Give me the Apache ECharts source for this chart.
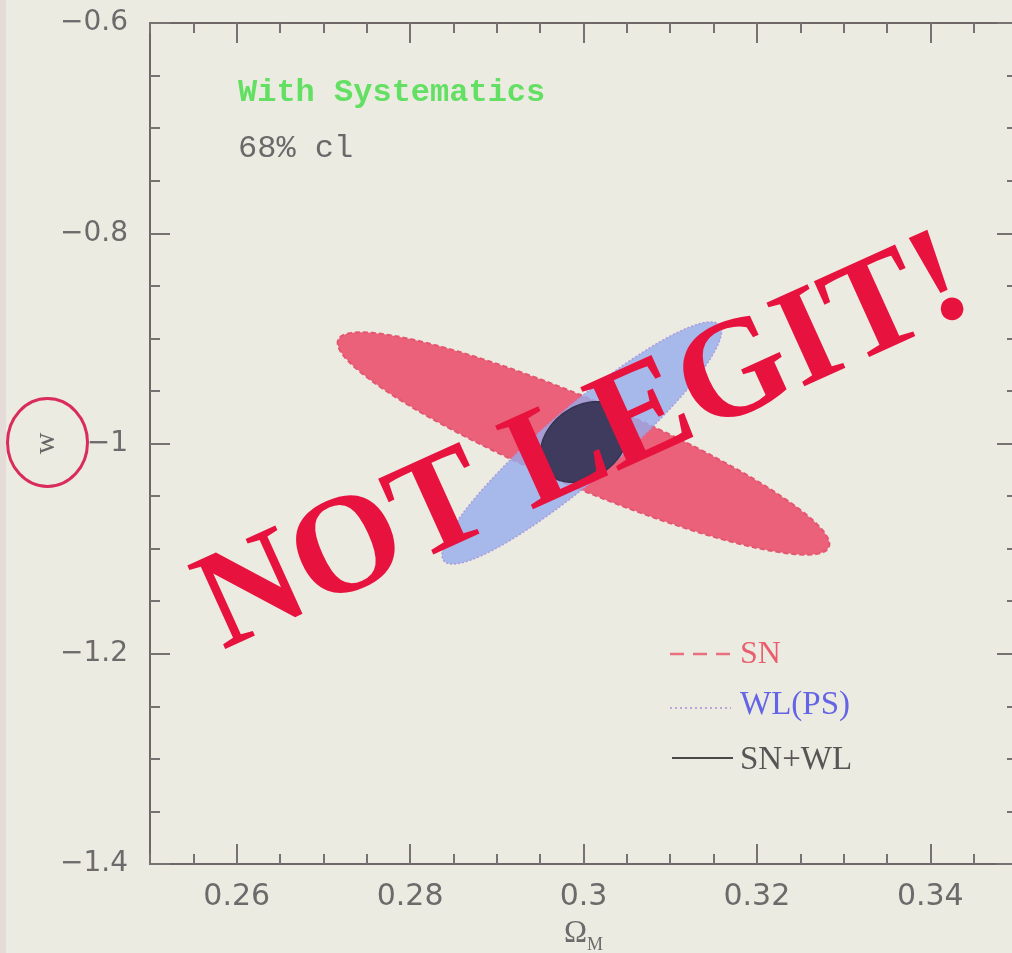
<!DOCTYPE html>
<html><head><meta charset="utf-8">
<script src="https://cdn.jsdelivr.net/npm/echarts@6/dist/echarts.min.js"></script>
<style>html,body{margin:0;padding:0;background:#ecebe1;}#c{width:1012px;height:953px;}</style>
</head><body><div id="c"></div>
<script>
// ---- data ----
const xRange = [0.25, 0.35];
const yRange = [-1.4, -0.6];
const xMajorTicks = [0.26, 0.28, 0.30, 0.32, 0.34];
const xTickLabels = ['0.26', '0.28', '0.3', '0.32', '0.34'];
const yMajorTicks = [-0.6, -0.8, -1.0, -1.2, -1.4];
const yTickLabels = ['\u22120.6', '\u22120.8', '\u22121', '\u22121.2', '\u22121.4'];
const xMinorStep = 0.005;
const yMinorStep = 0.05;
const seriesNames = ['SN', 'WL(PS)', 'SN+WL'];
// 68% cl contours: [centre x, centre y, major-axis end x, y, minor-axis end x, y]
const snEllipse = [0.3000, -1.0000, 0.2717, -0.9015, 0.2981, -1.0385];
const wlEllipse = [0.2998, -0.9995, 0.3157, -0.8873, 0.3025, -1.0256];
const combEllipse = [0.3001, -0.9986, 0.3046, -0.9724, 0.3024, -1.0266];

const frameColor = '#6f6767';
const tickColor = '#777272';
const labelColor = '#6c6a6a';

function labelFor(ticks, labels) {
  return function (v) {
    for (let i = 0; i < ticks.length; i++) if (Math.abs(ticks[i] - v) < 1e-9) return labels[i];
    return '';
  };
}

function ellipseRenderer(style) {
  return function (params, api) {
    const cx = api.value(0), cy = api.value(1);
    const ax = api.value(2) - cx, ay = api.value(3) - cy;
    const bx = api.value(4) - cx, by = api.value(5) - cy;
    const pts = [];
    const n = 160;
    for (let i = 0; i < n; i++) {
      const t = i / n * 2 * Math.PI;
      const c = Math.cos(t), s = Math.sin(t);
      pts.push(api.coord([cx + c * ax + s * bx, cy + c * ay + s * by]));
    }
    return { type: 'polygon', shape: { points: pts }, style: style };
  };
}

function majorX(pos) {
  return {
    type: 'value', min: xRange[0], max: xRange[1], position: pos,
    axisLine: { show: true, onZero: false, lineStyle: { color: frameColor, width: 2 } },
    axisTick: { show: true, inside: true, length: 20, customValues: xMajorTicks, lineStyle: { color: tickColor, width: 2 } },
    axisLabel: pos === 'bottom' ? {
      show: true, customValues: xMajorTicks, formatter: labelFor(xMajorTicks, xTickLabels),
      fontFamily: 'DejaVu Sans', fontSize: 30, color: labelColor, margin: 18
    } : { show: false },
    splitLine: { show: false },
    name: pos === 'bottom' ? '{o|\u03A9}{m|M}' : '',
    nameLocation: 'middle', nameGap: 50, nameMoveOverlap: false,
    nameTextStyle: {
      rich: {
        o: { fontFamily: 'Liberation Serif', fontSize: 31, color: labelColor },
        m: { fontFamily: 'Liberation Serif', fontSize: 18, color: labelColor, verticalAlign: 'top', padding: [22, 0, 0, 0] }
      }
    }
  };
}
function minorX(pos) {
  return {
    type: 'value', min: xRange[0], max: xRange[1], interval: xMinorStep, position: pos,
    axisLine: { show: false },
    axisTick: { show: true, inside: true, length: 10, lineStyle: { color: tickColor, width: 2 } },
    axisLabel: { show: false }, splitLine: { show: false }
  };
}
function majorY(pos) {
  return {
    type: 'value', min: yRange[0], max: yRange[1], position: pos,
    axisLine: { show: true, onZero: false, lineStyle: { color: frameColor, width: 2 } },
    axisTick: { show: true, inside: true, length: 20, customValues: yMajorTicks, lineStyle: { color: tickColor, width: 2 } },
    axisLabel: pos === 'left' ? {
      show: true, customValues: yMajorTicks, formatter: labelFor(yMajorTicks, yTickLabels),
      fontFamily: 'DejaVu Sans', fontSize: 28, color: labelColor, margin: 22
    } : { show: false },
    splitLine: { show: false },
    name: pos === 'left' ? 'w' : '',
    nameLocation: 'middle', nameGap: 89, nameRotate: 90, nameMoveOverlap: false,
    nameTextStyle: { fontFamily: 'Liberation Serif', fontSize: 30, color: '#666' }
  };
}
function minorY(pos) {
  return {
    type: 'value', min: yRange[0], max: yRange[1], interval: yMinorStep, position: pos,
    axisLine: { show: false },
    axisTick: { show: true, inside: true, length: 10, lineStyle: { color: tickColor, width: 2 } },
    axisLabel: { show: false }, splitLine: { show: false }
  };
}

const chart = echarts.init(document.getElementById('c'), null, { renderer: 'canvas' });
chart.setOption({
  backgroundColor: '#ecebe1',
  animation: false,
  grid: { left: 150, top: 23, width: 867, height: 841, containLabel: false, outerBoundsMode: 'none' },
  xAxis: [majorX('bottom'), minorX('bottom'), majorX('top'), minorX('top')],
  yAxis: [majorY('left'), minorY('left'), majorY('right'), minorY('right')],
  series: [
    {
      type: 'custom', name: seriesNames[0], xAxisIndex: 0, yAxisIndex: 0, z: 2,
      renderItem: ellipseRenderer({ fill: '#ea6179', stroke: '#e4566f', lineWidth: 2, lineDash: [5, 3] }),
      data: [snEllipse]
    },
    {
      type: 'custom', name: seriesNames[1], xAxisIndex: 0, yAxisIndex: 0, z: 3,
      renderItem: ellipseRenderer({ fill: 'rgba(150,172,236,0.8)', stroke: 'rgba(170,150,220,0.9)', lineWidth: 1.5, lineDash: [2, 2] }),
      data: [wlEllipse]
    },
    {
      type: 'custom', name: seriesNames[2], xAxisIndex: 0, yAxisIndex: 0, z: 4,
      renderItem: ellipseRenderer({ fill: '#3e3b5e', stroke: '#35334f', lineWidth: 1.5 }),
      data: [combEllipse]
    }
  ],
  graphic: [
    { type: 'rect', shape: { x: 0, y: 0, width: 6, height: 953 }, style: { fill: '#e6dcd7' }, z: 0 },
    { type: 'text', x: 238, y: 93, style: { text: 'With Systematics', font: 'bold 32px "Liberation Mono"', fill: '#63e063', verticalAlign: 'middle' }, z: 10 },
    { type: 'text', x: 238, y: 149, style: { text: '68% cl', font: '32px "Liberation Mono"', fill: '#6a6868', verticalAlign: 'middle' }, z: 10 },
    { type: 'line', shape: { x1: 670, y1: 654, x2: 733, y2: 654 }, style: { stroke: '#e8707f', lineWidth: 2.5, lineDash: [14, 9] }, z: 10 },
    { type: 'text', x: 740, y: 655, style: { text: 'SN', font: '32px "Liberation Serif"', fill: '#e8606e', verticalAlign: 'middle' }, z: 10 },
    { type: 'line', shape: { x1: 670, y1: 708, x2: 731, y2: 708 }, style: { stroke: '#bba6d8', lineWidth: 2, lineDash: [2, 3] }, z: 10 },
    { type: 'text', x: 740, y: 705, style: { text: 'WL(PS)', font: '33px "Liberation Serif"', fill: '#6464e6', verticalAlign: 'middle' }, z: 10 },
    { type: 'line', shape: { x1: 672, y1: 758, x2: 733, y2: 758 }, style: { stroke: '#4a4848', lineWidth: 2 }, z: 10 },
    { type: 'text', x: 740, y: 760, style: { text: 'SN+WL', font: '33px "Liberation Serif"', fill: '#575555', verticalAlign: 'middle' }, z: 10 },
    { type: 'ellipse', shape: { cx: 47.5, cy: 442.5, rx: 40, ry: 44 }, style: { fill: 'none', stroke: '#d92c5a', lineWidth: 3 }, z: 10 },
    { type: 'text', x: 585, y: 446, rotation: 24.4 * Math.PI / 180,
      style: { text: 'NOT LEGIT!', font: 'bold 140px "Liberation Serif"', fill: '#e8123e', align: 'center', verticalAlign: 'middle' }, z: 100 }
  ]
});
</script>
</body></html>
